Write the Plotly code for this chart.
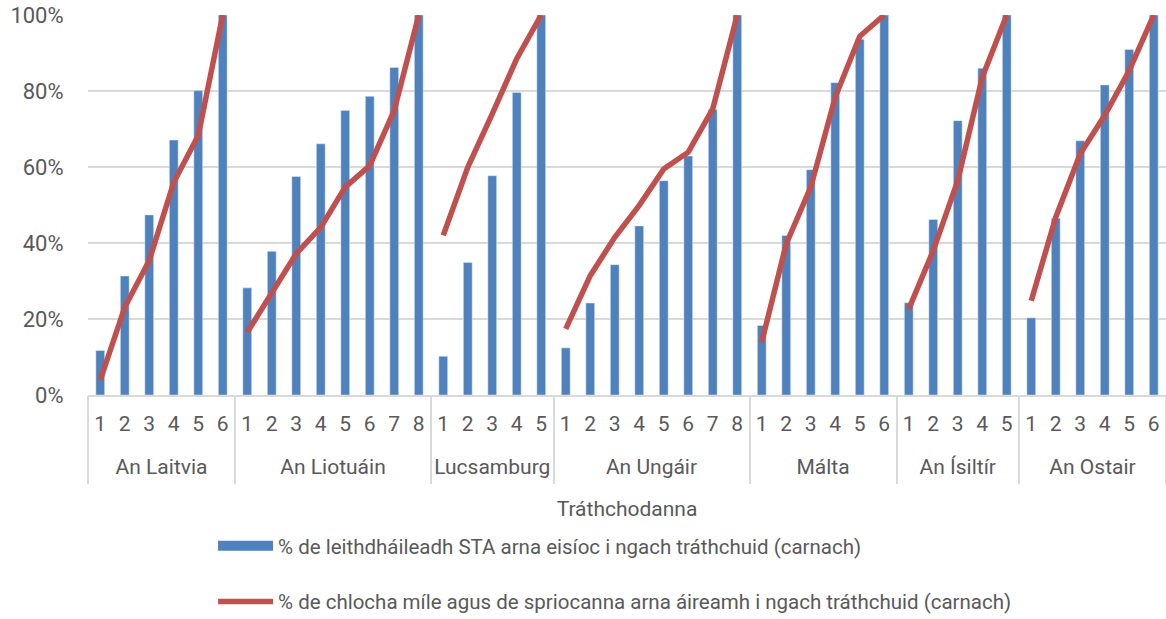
import plotly.graph_objects as go

countries = ["An Laitvia", "An Liotuáin", "Lucsamburg", "An Ungáir", "Málta", "An Ísiltír", "An Ostair"]
bars = {
    "An Laitvia": [11.7, 31.3, 47.4, 67.1, 80.1, 100],
    "An Liotuáin": [28.2, 37.8, 57.5, 66.1, 74.9, 78.6, 86.2, 100],
    "Lucsamburg": [10.2, 34.9, 57.7, 79.6, 100],
    "An Ungáir": [12.4, 24.2, 34.3, 44.5, 56.4, 62.9, 75.1, 100],
    "Málta": [18.3, 42.0, 59.3, 82.2, 93.6, 100],
    "An Ísiltír": [24.3, 46.2, 72.2, 86.0, 100],
    "An Ostair": [20.3, 46.5, 66.9, 81.6, 90.9, 100],
}
lines = {
    "An Laitvia": [3.9, 23.1, 35.4, 56.0, 68.3, 100],
    "An Liotuáin": [16.5, 26.7, 37.2, 44.1, 54.7, 60.4, 74.9, 100],
    "Lucsamburg": [42.0, 59.9, 74.0, 88.5, 100],
    "An Ungáir": [17.4, 31.4, 41.5, 49.9, 59.5, 63.9, 75.3, 100],
    "Málta": [13.9, 39.8, 54.7, 78.4, 94.4, 100],
    "An Ísiltír": [22.6, 38.0, 56.4, 83.6, 100],
    "An Ostair": [24.8, 46.8, 63.5, 73.6, 85.4, 100],
}
bar_name = "% de leithdháileadh STA arna eisíoc i ngach tráthchuid (carnach)"
line_name = "% de chlocha míle agus de spriocanna arna áireamh i ngach tráthchuid (carnach)"
x_title = "Tráthchodanna"

FONT = "Roboto, sans-serif"
GREY = "#595959"
GRID = "#D9D9D9"
BLUE = "#4F81BD"
RED = "#C0504D"

# category positions (index along the axis) built from the data
pos, num_lbl, yb = [], [], []
group_pos, centers, bounds = {}, [], [-0.5]
idx = 0
for c in countries:
    p = []
    for i, v in enumerate(bars[c]):
        pos.append(idx)
        p.append(idx)
        num_lbl.append(str(i + 1))
        yb.append(v / 100)
        idx += 1
    group_pos[c] = p
    centers.append((p[0] + p[-1]) / 2)
    bounds.append(p[-1] + 0.5)
n = idx

fig = go.Figure()
fig.add_trace(go.Bar(x=pos, y=yb, name=bar_name, marker_color=BLUE, width=0.36,
                     showlegend=False, hoverinfo="y"))
fig.add_trace(go.Scatter(x=[0], y=[None], mode="lines", name=bar_name,
                         line=dict(color=BLUE, width=13), legendgroup="b",
                         showlegend=True, hoverinfo="skip"))
for k, c in enumerate(countries):
    vals = lines[c]
    fig.add_trace(go.Scatter(
        x=group_pos[c][:len(vals)], y=[v / 100 for v in vals], mode="lines", name=line_name,
        line=dict(color=RED, width=5.5), legendgroup="l", showlegend=(k == 0)))

W, H, T = 1166, 619, 15
def py(page_y):
    return (H - page_y) / (H - T)

fig.update_layout(
    width=W, height=H,
    margin=dict(l=88, r=0, t=T, b=0, autoexpand=False),
    paper_bgcolor="white", plot_bgcolor="white",
    font=dict(family=FONT, color=GREY, size=21),
    showlegend=True,
    legend=dict(x=0.116, y=py(526), xanchor="left", yanchor="top",
                orientation="v", tracegroupgap=26,
                font=dict(family=FONT, size=20.5, color=GREY),
                itemwidth=55),
    xaxis=dict(range=[-0.5, n - 0.5], tickmode="array", tickvals=pos, ticktext=num_lbl,
               showgrid=False, zeroline=False, showline=True, linecolor=GRID, linewidth=1.5,
               ticks="outside", ticklen=9, tickcolor="rgba(0,0,0,0)",
               tickfont=dict(family=FONT, size=21, color=GREY), automargin=False),
    xaxis2=dict(range=[-0.5, n - 0.5], overlaying="x", anchor="free", position=py(452),
                tickmode="array", tickvals=centers, ticktext=countries,
                showgrid=False, zeroline=False, showline=False, ticks="",
                tickfont=dict(family=FONT, size=21, color=GREY), automargin=False,
                title=dict(text=x_title, font=dict(family=FONT, size=21, color=GREY),
                           standoff=23)),
    xaxis3=dict(range=[-0.5, n - 0.5], overlaying="x", anchor="free", position=py(395),
                tickmode="array", tickvals=bounds, showticklabels=False,
                showgrid=False, zeroline=False, showline=False,
                ticks="outside", ticklen=88, tickwidth=1.5, tickcolor=GRID, automargin=False),
    yaxis=dict(range=[0, 1], domain=[py(395), 1], tickvals=[0, 0.2, 0.4, 0.6, 0.8, 1.0],
               tickformat=".0%", showgrid=True, gridcolor=GRID, gridwidth=1.5, zeroline=False,
               showline=False, ticks="outside", ticklen=19, tickcolor="rgba(0,0,0,0)",
               automargin=False, ticklabeloverflow="allow",
               tickfont=dict(family=FONT, size=22, color=GREY)),
)
# invisible traces to activate the helper axes
fig.add_trace(go.Scatter(x=[0], y=[None], xaxis="x2", showlegend=False, hoverinfo="skip"))
fig.add_trace(go.Scatter(x=[0], y=[None], xaxis="x3", showlegend=False, hoverinfo="skip"))
fig.write_html("out.html", config={"displayModeBar": False},
               post_script="document.body.style.margin='0';document.body.style.overflow='hidden';")
